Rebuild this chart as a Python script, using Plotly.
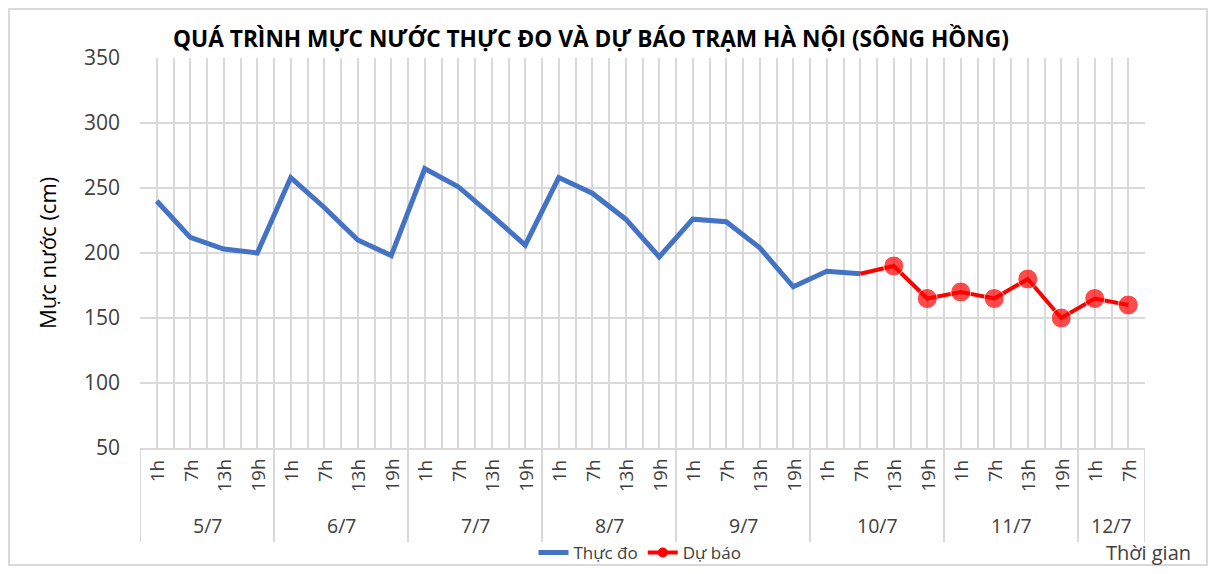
import plotly.graph_objects as go

days = ["5/7", "6/7", "7/7", "8/7", "9/7", "10/7", "11/7", "12/7"]
hours = ["1h", "7h", "13h", "19h"]
day_counts = [4, 4, 4, 4, 4, 4, 4, 2]

observed = [240, 212, 203, 200, 258, 235, 210, 198, 265, 251, 229, 206,
            258, 246, 226, 197, 226, 224, 204, 174, 186, 184]
forecast = [184, 190, 165, 170, 165, 180, 150, 165, 160]
forecast_start = 21

title = "QUÁ TRÌNH MỰC NƯỚC THỰC ĐO VÀ DỰ BÁO TRẠM HÀ NỘI (SÔNG HỒNG)"
y_title = "Mực nước (cm)"
x_title = "Thời gian"

cat_hours = []
for d, n in zip(days, day_counts):
    for h in hours[:n]:
        cat_hours.append(h)
n_cat = len(cat_hours)
xs = list(range(n_cat))

FONT = "Open Sans"
GRID = "#d9d9d9"
TXT = "#404040"

W, H = 1200, 558

# page -> paper helpers (plot area: page x 140..1145, y 58..448)
def px(X):
    return (X - 140) / 1005

def py(Y):
    return (448 - Y) / 390

fig = go.Figure()
fig.add_trace(go.Scatter(
    x=xs[:len(observed)], y=observed, mode="lines",
    line=dict(color="#4472c4", width=5), showlegend=False, hoverinfo="y"))
fx = xs[forecast_start:forecast_start + len(forecast)]
fig.add_trace(go.Scatter(
    x=fx, y=forecast, mode="lines+markers",
    line=dict(color="#ff0000", width=4),
    marker=dict(color="#ff0000", size=[0] + [20] * (len(forecast) - 1)),
    showlegend=False, hoverinfo="y"))
fig.add_trace(go.Scatter(x=[None], y=[None], mode="lines", name="Thực đo",
                         line=dict(color="#4472c4", width=5)))
fig.add_trace(go.Scatter(x=[None], y=[None], mode="lines+markers", name="Dự báo",
                         line=dict(color="#ff0000", width=4),
                         marker=dict(color="#ff0000", size=10)))

annotations = []
for i, h in enumerate(cat_hours):
    annotations.append(dict(x=i, y=0, xref="x", yref="paper", text=h,
                            textangle=-90, showarrow=False, yanchor="top",
                            xanchor="center", yshift=-9,
                            font=dict(family=FONT, size=19, color=TXT)))
shapes = []
start = 0
bounds = [-0.5]
for d, n in zip(days, day_counts):
    center = start + (n - 1) / 2
    annotations.append(dict(x=center, y=py(525), xref="x", yref="paper", text=d,
                            xanchor="center", yanchor="middle",
                            showarrow=False, font=dict(family=FONT, size=19.5, color=TXT)))
    start += n
    bounds.append(start - 0.5)
for b in bounds:
    shapes.append(dict(type="line", xref="x", yref="paper", x0=b, x1=b,
                       y0=0, y1=py(542), line=dict(color=GRID, width=2)))

annotations.append(dict(x=px(591), y=py(39), xref="paper", yref="paper",
                        xanchor="center", yanchor="middle",
                        text="<b>" + title + "</b>", showarrow=False,
                        font=dict(family=FONT, size=22.7, color="#000000")))
annotations.append(dict(x=px(1148), y=py(552), xref="paper", yref="paper",
                        xanchor="center", yanchor="middle",
                        text=x_title, showarrow=False,
                        font=dict(family=FONT, size=20, color=TXT)))
annotations.append(dict(x=px(47), y=py(253), xref="paper", yref="paper",
                        xanchor="center", yanchor="middle",
                        text=y_title, textangle=-90, showarrow=False,
                        font=dict(family=FONT, size=22, color="#000000")))
shapes.append(dict(type="rect", xref="paper", yref="paper",
                   x0=px(9), x1=px(1207), y0=py(565), y1=py(9),
                   line=dict(color=GRID, width=2)))

fig.update_layout(
    width=W, height=H,
    margin=dict(l=132, r=63, t=50, b=118, autoexpand=False),
    plot_bgcolor="white", paper_bgcolor="white",
    font=dict(family=FONT, color=TXT),
    xaxis=dict(range=[-0.5, n_cat - 0.5], tick0=-0.5, dtick=0.5, showgrid=True,
               gridcolor=GRID, gridwidth=1.5, showticklabels=False, zeroline=False,
               showline=True, linecolor=GRID, linewidth=2),
    yaxis=dict(range=[50, 350], dtick=50, showgrid=True, gridcolor=GRID, gridwidth=1.5,
               zeroline=False, showline=False, ticks="", ticklabelstandoff=19,
               tickfont=dict(family=FONT, size=21, color=TXT)),
    legend=dict(orientation="h", xref="container", yref="container",
                x=(640 - 8) / W, xanchor="center", y=(H - (553 - 8)) / H,
                yanchor="middle", font=dict(family=FONT, size=17, color=TXT),
                bgcolor="rgba(0,0,0,0)"),
    annotations=annotations, shapes=shapes,
)

fig.write_html("out.html")
